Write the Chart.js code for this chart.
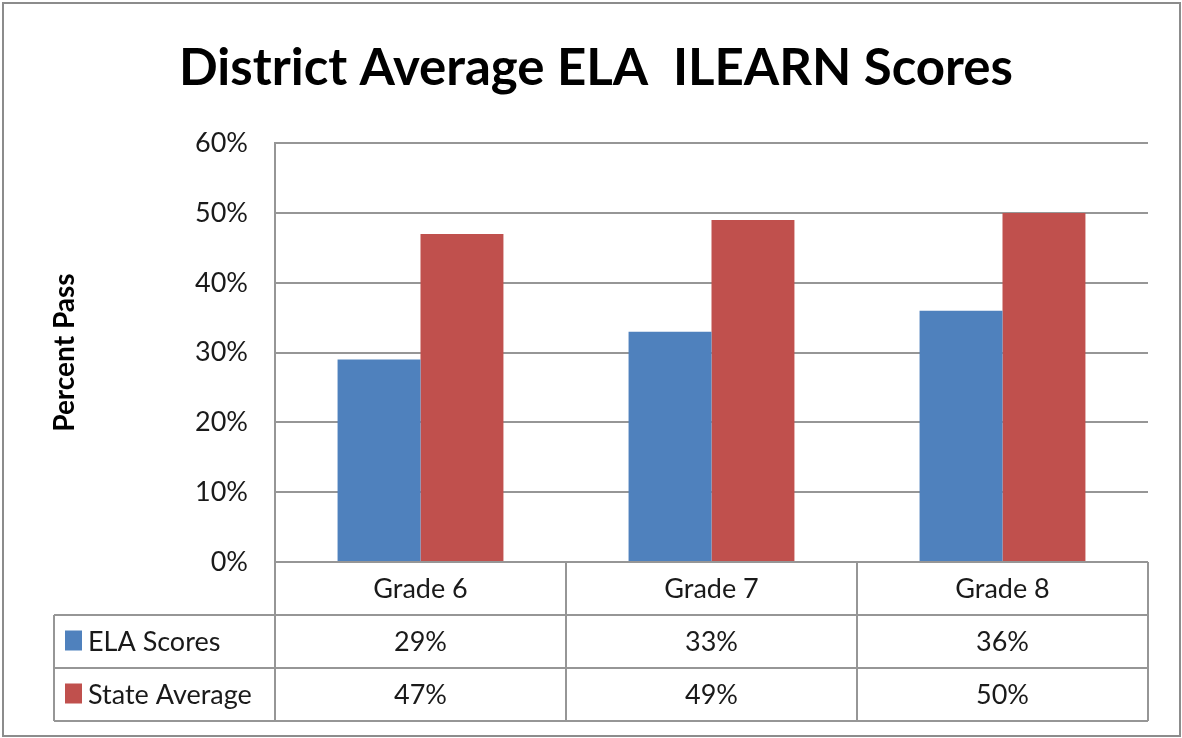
<!DOCTYPE html>
<html>
<head>
<meta charset="utf-8">
<script src="https://cdn.jsdelivr.net/npm/chart.js@4"></script>
<style>
  html, body { margin: 0; padding: 0; background: #fff; }
  #wrap { width: 1182px; height: 738px; }
</style>
</head>
<body>
<div id="wrap"><canvas id="gradeChart" width="1182" height="738"></canvas></div>
<script>
// data
const grades = ["Grade 6", "Grade 7", "Grade 8"];
const elaScores = [29, 33, 36];
const stateAverage = [47, 49, 50];
const yTicks = [0, 10, 20, 30, 40, 50, 60];

const FONT = "Lato, 'Open Sans', sans-serif";
const GRID = "#969696";
const TXT = "#1a1a1a";

// frame round the whole picture
const framePlugin = {
  id: "frame",
  beforeDraw(chart) {
    const c = chart.ctx;
    c.save();
    c.fillStyle = "#fff";
    c.fillRect(0, 0, chart.width, chart.height);
    c.strokeStyle = "#8c8c8c";
    c.lineWidth = 2;
    c.strokeRect(3, 3, chart.width - 5, chart.height - 5);
    c.restore();
  }
};

// data table under the plot (Excel style)
const tablePlugin = {
  id: "dataTable",
  afterDraw(chart) {
    const c = chart.ctx;
    const area = chart.chartArea;
    const xs = chart.scales.x;
    const n = grades.length;
    const colW = (area.right - area.left) / n;
    const rowH = 53;
    const top = area.bottom;
    const tableLeft = 54;
    const rows = [
      { label: "ELA Scores", color: "#4F81BD", values: elaScores },
      { label: "State Average", color: "#C0504D", values: stateAverage }
    ];
    c.save();
    c.strokeStyle = GRID;
    c.lineWidth = 2;
    c.beginPath();
    c.moveTo(area.left, top); c.lineTo(area.right, top);
    for (let r = 1; r <= 3; r++) {
      c.moveTo(tableLeft, top + r * rowH); c.lineTo(area.right, top + r * rowH);
    }
    c.moveTo(tableLeft, top + rowH); c.lineTo(tableLeft, top + 3 * rowH);
    for (let i = 0; i <= n; i++) {
      const x = area.left + i * colW;
      c.moveTo(x, top); c.lineTo(x, top + 3 * rowH);
    }
    c.stroke();

    c.fillStyle = TXT;
    c.font = "27px " + FONT;
    c.textBaseline = "middle";
    c.textAlign = "center";
    grades.forEach((g, i) => {
      c.fillText(g, xs.getPixelForValue(i), top + rowH / 2 + 1);
    });
    rows.forEach((row, r) => {
      const cy = top + (r + 1.5) * rowH;
      c.textAlign = "center";
      c.fillStyle = TXT;
      row.values.forEach((v, i) => {
        c.fillText(v + "%", xs.getPixelForValue(i), cy + 1);
      });
      c.fillStyle = row.color;
      c.fillRect(65, cy - 11, 17, 20);
      c.fillStyle = TXT;
      c.textAlign = "left";
      c.fillText(row.label, 88, cy + 1);
    });
    c.restore();
  }
};

const ctx = document.getElementById("gradeChart");
const chart = new Chart(ctx, {
  type: "bar",
  data: {
    labels: grades,
    datasets: [
      { label: "ELA Scores", data: elaScores, backgroundColor: "#4F81BD" },
      { label: "State Average", data: stateAverage, backgroundColor: "#C0504D" }
    ]
  },
  options: {
    responsive: false,
    animation: false,
    devicePixelRatio: 1,
    layout: { padding: { left: 44, right: 34, top: 0, bottom: 176 } },
    datasets: { bar: { categoryPercentage: 0.57, barPercentage: 1.0 } },
    plugins: {
      legend: { display: false },
      tooltip: { enabled: false },
      title: {
        display: true,
        text: "District Average ELA  ILEARN Scores",
        color: "#000",
        font: { family: FONT, size: 51, weight: "bold" },
        padding: { top: 38, bottom: 44 }
      }
    },
    scales: {
      x: { display: false },
      y: {
        min: 0,
        max: 60,
        afterBuildTicks(scale) { scale.ticks = yTicks.map(v => ({ value: v })); },
        afterFit(scale) { scale.width = 275 - 44; },
        ticks: {
          callback: v => v + "%",
          color: TXT,
          font: { family: FONT, size: 27 },
          padding: 27
        },
        grid: { color: GRID, lineWidth: 2, drawTicks: false },
        border: { display: true, color: GRID, width: 2 },
        title: {
          display: true,
          text: "Percent Pass",
          color: "#000",
          font: { family: FONT, size: 28, weight: "bold" },
          padding: { top: 4, bottom: 0 }
        }
      }
    }
  },
  plugins: [framePlugin, tablePlugin]
});
</script>
</body>
</html>
